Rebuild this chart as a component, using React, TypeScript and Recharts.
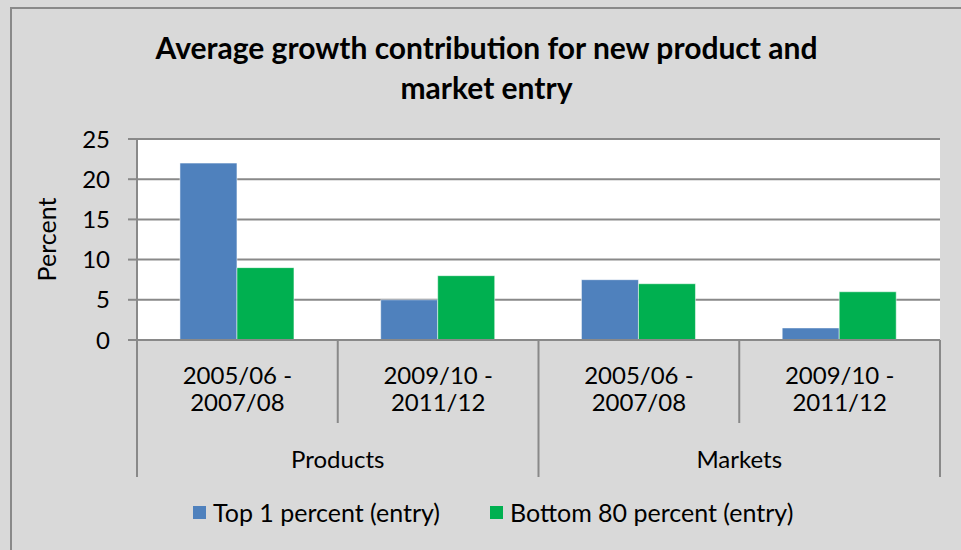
import { Bar, BarChart, CartesianGrid, XAxis, YAxis } from 'recharts';

// Periods and groups along the category axis
const PERIODS = ['2005/06 -\n2007/08', '2009/10 -\n2011/12', '2005/06 -\n2007/08', '2009/10 -\n2011/12'];
const GROUPS = ['Products', 'Products', 'Markets', 'Markets'];

// Series values
const TOP_1 = [22, 5, 7.5, 1.5];
const BOTTOM_80 = [9, 8, 7, 6];

const Y_TICKS = [0, 5, 10, 15, 20, 25];

const SERIES = [
    { key: 'top1', name: 'Top 1 percent (entry)', color: '#4F81BD' },
    { key: 'bottom80', name: 'Bottom 80 percent (entry)', color: '#00B050' },
];

const data = PERIODS.map((period, i) => ({
    period,
    group: GROUPS[i],
    top1: TOP_1[i],
    bottom80: BOTTOM_80[i],
}));

const FONT = 'Lato, "Open Sans", sans-serif';
const LINE = '#898989';

const W = 961;
const H = 550;
const PLOT_LEFT = 137;
const PLOT_RIGHT = 940;
const PLOT_BOTTOM = 340;
const BAND = (PLOT_RIGHT - PLOT_LEFT) / PERIODS.length;

// draws the two-level category labels and the divider lines under the plot
const CategoryTick = (props: any) => {
    const { x, index } = props;
    const lines = PERIODS[index].split('\n');
    const left = x - BAND / 2;
    const isGroupStart = index === 0 || GROUPS[index] !== GROUPS[index - 1];
    const isLast = index === PERIODS.length - 1;
    return (
        <g>
            <line x1={left} x2={left} y1={PLOT_BOTTOM} y2={isGroupStart ? 477 : 423} stroke={LINE} strokeWidth={2} />
            {isLast && (
                <line x1={left + BAND} x2={left + BAND} y1={PLOT_BOTTOM} y2={477} stroke={LINE} strokeWidth={2} />
            )}
            {lines.map((l, k) => (
                <text key={k} x={x} y={374 + k * 27} textAnchor="middle" dominantBaseline="central"
                    fontSize={24} fontFamily={FONT} fill="#000">{l}</text>
            ))}
            {isGroupStart && (
                <text x={x + BAND / 2} y={458} textAnchor="middle" dominantBaseline="central"
                    fontSize={24} fontFamily={FONT} fill="#000">{GROUPS[index]}</text>
            )}
        </g>
    );
};

export default function App() {
    return (
        <div style={{ position: 'absolute', left: 0, top: 0, width: W, height: H, background: '#D9D9D9', overflow: 'hidden', fontFamily: FONT }}>
            <div style={{ position: 'absolute', left: 10, top: 7, width: W, height: H, borderLeft: `2px solid ${LINE}`, borderTop: `2px solid ${LINE}` }} />
            <div style={{ position: 'absolute', left: 0, top: 27, width: 973, textAlign: 'center', fontWeight: 700, fontSize: 30, lineHeight: '40px', color: '#000' }}>
                Average growth contribution for new product and<br />market entry
            </div>
            <div style={{ position: 'absolute', left: 0, top: 0 }}>
                <BarChart width={W} height={H} data={data} margin={{ top: 139, right: W - PLOT_RIGHT, bottom: H - PLOT_BOTTOM - 30, left: 0 }}
                    barCategoryGap="21.4%" barGap={0}>
                    <CartesianGrid vertical={false} fill="#FFFFFF" stroke={LINE} strokeWidth={2} />
                    <XAxis dataKey="period" height={30} axisLine={{ stroke: LINE, strokeWidth: 2 }} tickLine={false}
                        interval={0} tick={<CategoryTick />} />
                    <YAxis width={PLOT_LEFT} domain={[0, 25]} ticks={Y_TICKS} axisLine={{ stroke: LINE, strokeWidth: 2 }}
                        tickLine={{ stroke: LINE, strokeWidth: 2 }} tickSize={9} tickMargin={18}
                        tick={{ fontSize: 24, fontFamily: FONT, fill: '#000' }}
                        label={{ value: 'Percent', angle: -90, position: 'insideLeft', offset: 47, fontSize: 25, fontFamily: FONT, fill: '#000', style: { textAnchor: 'middle' } }} />
                    {SERIES.map((s) => (
                        <Bar key={s.key} dataKey={s.key} name={s.name} fill={s.color} stroke="#ffffff" strokeOpacity={0.5} strokeWidth={1} isAnimationActive={false} />
                    ))}
                </BarChart>
            </div>
            <div style={{ position: 'absolute', left: 193, top: 497, display: 'flex', alignItems: 'center', fontSize: 25, color: '#000', whiteSpace: 'nowrap' }}>
                {SERIES.map((s, i) => (
                    <div key={s.key} style={{ display: 'flex', alignItems: 'center', marginLeft: i ? 50 : 0 }}>
                        <span style={{ display: 'inline-block', width: 13, height: 13, background: s.color, marginRight: 7 }} />
                        <span>{s.name}</span>
                    </div>
                ))}
            </div>
        </div>
    );
}
